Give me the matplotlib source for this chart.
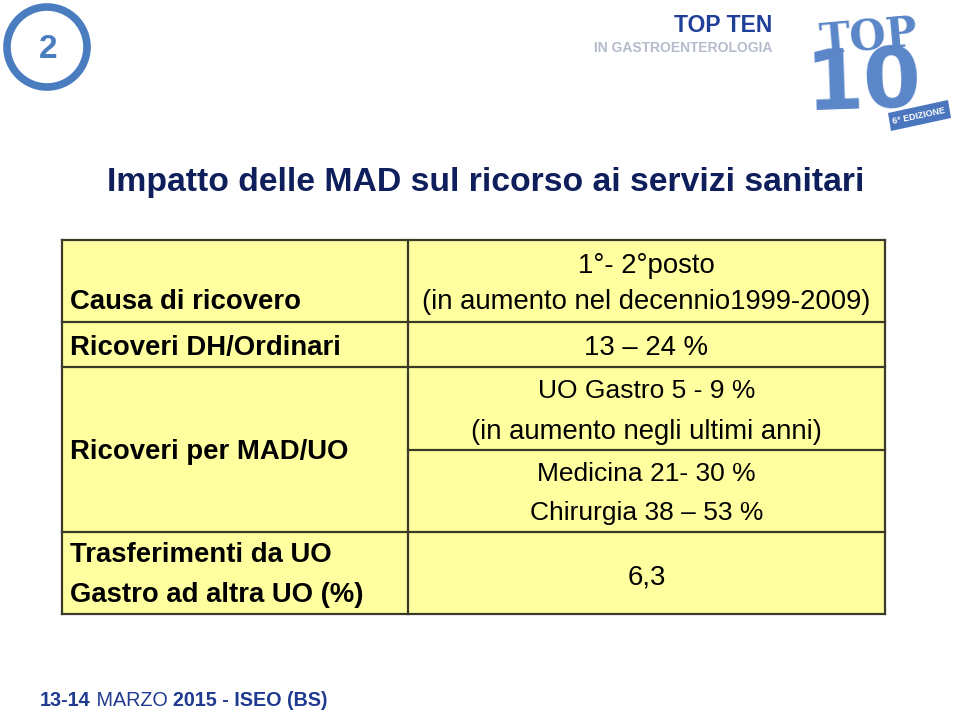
import matplotlib
matplotlib.use("Agg")
import matplotlib.pyplot as plt
from matplotlib.patches import Rectangle, Circle, Polygon

# ---------------- data ----------------
slide_number = "2"
title = "Impatto delle MAD sul ricorso ai servizi sanitari"
header_left = "Causa di ricovero"
header_right = ["1°- 2°posto", "(in aumento nel decennio1999-2009)"]
row_labels = ["Ricoveri DH/Ordinari", "Ricoveri per MAD/UO",
              "Trasferimenti da UO\nGastro ad altra UO (%)"]
dh_value = "13 – 24 %"
mad_gastro = ["UO Gastro 5 - 9 %", "(in aumento negli ultimi anni)"]
mad_other = ["Medicina 21- 30 %", "Chirurgia 38 – 53 %"]
transfer_value = "6,3"
footer_parts = [("13-14", "bold"), (" MARZO ", "normal"), ("2015 - ISEO (BS)", "bold")]

# ---------------- fonts ----------------
REG = "Liberation Sans"

W, H = 960, 715
fig = plt.figure(figsize=(9.6, 7.15), dpi=100)
ax = fig.add_axes([0, 0, 1, 1])
ax.set_xlim(0, W)
ax.set_ylim(H, 0)
ax.axis("off")

navy = "#0f1f5c"
blue = "#4a7cc0"

# slide badge
ax.add_patch(Circle((47, 47), 40, fill=False, lw=5.5, ec=blue))
ax.text(48, 50, slide_number, ha="center", va="center", fontsize=24,
        fontweight="bold", color=blue, family=REG)

# TOP TEN logo text
ax.text(772, 26, "TOP TEN", ha="right", va="center", fontsize=16.5, fontweight="heavy",
        color="#1f3f99", family=REG)
ax.text(772, 48, "IN GASTROENTEROLOGIA", ha="right", va="center", fontsize=10,
        fontweight="bold", color="#b4bccb", family=REG)

# TOP 10 3D-ish logo
logo_blue = "#5a86c8"
ax.text(868, 38, "TOP", ha="center", va="center", fontsize=30, fontweight="bold",
        color=logo_blue, family="DejaVu Serif", rotation=5)
ax.text(864, 84, "10", ha="center", va="center", fontsize=60, fontweight="bold",
        color=logo_blue, family="DejaVu Sans", rotation=2)
ax.add_patch(Polygon([(888, 113), (948, 100), (951, 118), (891, 131)],
                     closed=True, fc="#4a76bd", ec="none"))
ax.text(919, 116, "6° EDIZIONE", ha="center", va="center", fontsize=6.5,
        color="white", fontweight="bold", family=REG, rotation=12)

# title
ax.text(107, 182, title, ha="left", va="center", fontsize=24.3, fontweight="bold",
        color=navy, family=REG)

# ---------------- table ----------------
x0, xm, x1 = 62, 408, 885
y_top, y_h, y_dh, y_split, y_mad, y_bot = 240, 322, 367, 450, 532, 614
fill = "#ffff9f"
lc = "#3a3a2a"
ax.add_patch(Rectangle((x0, y_top), x1 - x0, y_bot - y_top, fc=fill, ec="none"))
lw = 1.6
for y in (y_top, y_h, y_dh, y_mad, y_bot):
    ax.plot([x0, x1], [y, y], color=lc, lw=lw, solid_capstyle="projecting")
ax.plot([xm, x1], [y_split, y_split], color=lc, lw=lw)
for x in (x0, xm, x1):
    ax.plot([x, x], [y_top, y_bot], color=lc, lw=lw, solid_capstyle="projecting")

xc = (xm + x1) / 2
fs = 19.8
fsn = 19.0
lx = 70
dy = 2

ax.text(lx, 300 + dy, header_left, ha="left", va="center", fontsize=fs, fontweight="bold",
        family=REG)
ax.text(xc, 264 + dy, header_right[0], ha="center", va="center", fontsize=fs, family=REG)
ax.text(xc, 300 + dy, header_right[1], ha="center", va="center", fontsize=fs, family=REG)

ax.text(lx, 346 + dy, row_labels[0], ha="left", va="center", fontsize=fs, fontweight="bold",
        family=REG)
ax.text(xc, 346 + dy, dh_value, ha="center", va="center", fontsize=fs, family=REG)

ax.text(lx, 450 + dy, row_labels[1], ha="left", va="center", fontsize=fs, fontweight="bold",
        family=REG)
ax.text(xc, 389 + dy, mad_gastro[0], ha="center", va="center", fontsize=fsn, family=REG)
ax.text(xc, 430 + dy, mad_gastro[1], ha="center", va="center", fontsize=fs, family=REG)
ax.text(xc, 472 + dy, mad_other[0], ha="center", va="center", fontsize=fsn, family=REG)
ax.text(xc, 511 + dy, mad_other[1], ha="center", va="center", fontsize=fsn, family=REG)

tl = row_labels[2].split("\n")
ax.text(lx, 553 + dy, tl[0], ha="left", va="center", fontsize=fs, fontweight="bold",
        family=REG)
ax.text(lx, 593 + dy, tl[1], ha="left", va="center", fontsize=fs, fontweight="bold",
        family=REG)
ax.text(xc, 575 + dy, transfer_value, ha="center", va="center", fontsize=fs, family=REG)

# footer
footer_color = "#1f3a8f"
prev = ax.text(40, 701, footer_parts[0][0], ha="left", va="center", fontsize=14.2,
               fontweight=footer_parts[0][1], color=footer_color, family=REG)
for txt, wt in footer_parts[1:]:
    prev = ax.annotate(txt, xy=(1, 0), xycoords=prev, xytext=(0, 0),
                       textcoords="offset points", ha="left", va="bottom",
                       fontsize=14.2, fontweight=wt, color=footer_color, family=REG)

fig.savefig("out.png", dpi=100, facecolor="white")
